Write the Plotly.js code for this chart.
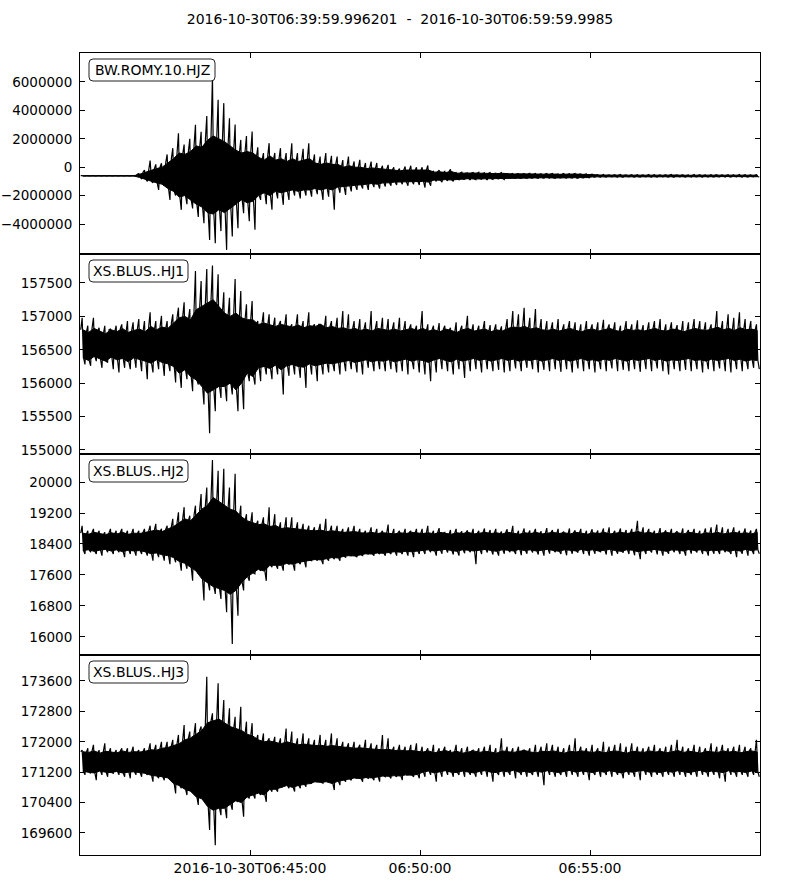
<!DOCTYPE html>
<html>
<head>
<meta charset="utf-8">
<script src="https://cdn.plot.ly/plotly-3.0.1.min.js"></script>
<style>html,body{margin:0;padding:0;background:#fff;}#plot{width:800px;height:891px;}</style>
</head>
<body>
<div id="plot"></div>
<script>
// ---- data: 10-second envelope bins (120 bins, 06:40:00 - 07:00:00) ----
// per bin: extreme max, extreme min, and the upper / lower edge of the dense band
const stations = ["BW.ROMY.10.HJZ", "XS.BLUS..HJ1", "XS.BLUS..HJ2", "XS.BLUS..HJ3"];
const startTime = "2016-10-30T06:39:59.996201";
const endTime = "2016-10-30T06:59:59.9985";
const binSeconds = 10;

const romyMax = [
-600000,-600000,-600000,-600000,-600000,-600000,-600000,-600000,-600000,-600000,
-450000,-200000,470000,200000,280000,900000,1340000,2390000,1600000,2000000,
2980000,2500000,3610000,6390000,4740000,4510000,3450000,3000000,1920000,2200000,
2510000,1400000,990000,1690000,1000000,1340000,1000000,1690000,990000,1300000,
1690000,900000,750000,990000,800000,750000,500000,750000,400000,520000,
300000,400000,300000,100000,160000,0,-100000,50000,100000,0,
0,120000,-260000,-200000,-300000,-150000,-380000,-350000,-400000,-380000,
-350000,-400000,-380000,-420000,-380000,-450000,-440000,-460000,-450000,-430000,
-450000,-460000,-440000,-450000,-470000,-450000,-460000,-450000,-480000,-470000,
-490000,-530000,-520000,-540000,-530000,-520000,-540000,-530000,-530000,-540000,
-520000,-530000,-540000,-530000,-520000,-540000,-530000,-540000,-520000,-530000,
-540000,-530000,-520000,-540000,-530000,-540000,-520000,-530000,-540000,-530000];
const romyMin = [
-620000,-620000,-620000,-620000,-620000,-620000,-620000,-620000,-620000,-620000,
-800000,-1000000,-1100000,-1600000,-1300000,-2300000,-2000000,-3000000,-2600000,-2900000,
-3500000,-3940000,-5120000,-5350000,-4500000,-5820000,-4880000,-4300000,-3240000,-3800000,
-4410000,-2300000,-2600000,-3000000,-2200000,-2650000,-2300000,-2000000,-2200000,-2000000,
-2070000,-1900000,-2300000,-2070000,-3000000,-1800000,-1950000,-1700000,-1600000,-1500000,
-1600000,-1400000,-1500000,-1360000,-1300000,-1250000,-1200000,-1300000,-1200000,-1250000,
-1430000,-1300000,-1000000,-1050000,-950000,-1000000,-890000,-850000,-900000,-880000,
-850000,-900000,-860000,-820000,-870000,-790000,-780000,-790000,-790000,-770000,
-780000,-780000,-770000,-780000,-750000,-770000,-760000,-780000,-750000,-750000,
-700000,-690000,-700000,-680000,-690000,-700000,-680000,-690000,-690000,-680000,
-700000,-690000,-680000,-700000,-690000,-680000,-700000,-690000,-680000,-690000,
-700000,-690000,-680000,-690000,-700000,-680000,-690000,-700000,-680000,-690000];
const romyBandHi = [
-600000,-600000,-600000,-600000,-600000,-600000,-600000,-600000,-600000,-600000,
-500000,-350000,-200000,-100000,0,300000,600000,1000000,900000,1100000,
1500000,1400000,1900000,2200000,2000000,1800000,1500000,1200000,1000000,1100000,
1000000,700000,500000,800000,500000,600000,400000,600000,400000,500000,
600000,300000,200000,300000,200000,200000,0,100000,0,0,
-100000,-50000,-100000,-150000,-150000,-200000,-250000,-200000,-200000,-250000,
-250000,-200000,-350000,-320000,-380000,-300000,-420000,-400000,-430000,-410000,
-420000,-440000,-420000,-450000,-430000,-470000,-480000,-470000,-490000,-480000,
-480000,-490000,-470000,-480000,-500000,-480000,-490000,-480000,-500000,-490000,
-520000,-550000,-560000,-570000,-560000,-550000,-570000,-560000,-560000,-570000,
-560000,-560000,-570000,-560000,-550000,-570000,-560000,-570000,-560000,-560000,
-570000,-560000,-550000,-570000,-560000,-570000,-560000,-560000,-570000,-560000];
const romyBandLo = [
-620000,-620000,-620000,-620000,-620000,-620000,-620000,-620000,-620000,-620000,
-720000,-850000,-1000000,-1100000,-1200000,-1500000,-1700000,-2100000,-2000000,-2300000,
-2600000,-2800000,-3200000,-3300000,-3000000,-3200000,-2900000,-2600000,-2300000,-2500000,
-2400000,-2000000,-1800000,-2000000,-1700000,-1800000,-1700000,-1600000,-1700000,-1600000,
-1600000,-1500000,-1600000,-1500000,-1600000,-1400000,-1400000,-1300000,-1300000,-1250000,
-1200000,-1150000,-1200000,-1100000,-1100000,-1050000,-1000000,-1050000,-1000000,-1000000,
-1000000,-1050000,-900000,-920000,-870000,-900000,-820000,-840000,-810000,-830000,
-820000,-800000,-820000,-790000,-810000,-770000,-760000,-770000,-750000,-760000,
-760000,-750000,-740000,-760000,-740000,-750000,-740000,-760000,-740000,-730000,
-680000,-670000,-670000,-660000,-670000,-680000,-660000,-670000,-670000,-660000,
-670000,-670000,-660000,-670000,-680000,-660000,-670000,-660000,-670000,-670000,
-660000,-670000,-670000,-660000,-670000,-660000,-670000,-670000,-660000,-670000];

const hj1Max = [
156980,156860,156980,156830,156860,156810,156860,156880,156930,156910,
156960,156930,157060,156930,157010,156930,157030,157130,157210,157110,
157680,157530,157710,157760,157630,157360,157280,157560,157380,157180,
157230,156930,157060,157030,156980,156930,157030,156880,157030,156930,
157060,156880,156880,157010,156930,156980,157080,157030,156930,156960,
156910,157080,156930,156980,156960,156910,156980,156930,156880,156860,
157080,156880,156860,156900,156860,156830,156910,156860,157010,156880,
156860,156930,156870,156880,156850,156960,157080,157030,157130,156980,
157110,156960,156930,156910,156960,156880,156930,156910,156880,156930,
156880,156910,156950,156880,156910,156860,156930,156880,156940,156870,
156910,156930,156960,156880,156910,156870,156930,156910,156960,156930,
156910,156880,157080,156930,157030,156980,157060,156960,156930,156880];
const hj1Min = [
156280,156260,156330,156230,156310,156210,156160,156230,156210,156230,
156180,156060,156160,156210,156110,156180,156010,155930,156060,155880,
155980,155680,155250,155580,155780,155730,155830,155580,155610,156030,
155980,156030,156130,156060,156130,155830,156110,156130,156080,155930,
156130,156030,156130,156160,156180,156130,156180,156210,156160,156130,
156230,156180,156210,156180,156210,156160,156180,156130,156210,156160,
156130,156030,156160,156210,156180,156130,156210,156080,156180,156210,
156160,156210,156180,156200,156160,156180,156220,156180,156230,156210,
156160,156200,156180,156210,156170,156210,156160,156220,156180,156210,
156160,156210,156180,156220,156180,156200,156180,156210,156170,156210,
156180,156220,156180,156130,156210,156180,156200,156180,156210,156160,
156210,156180,156220,156180,156160,156210,156180,156210,156230,156210];
const hj1BandHi = [
156800,156760,156820,156780,156740,156800,156770,156820,156760,156790,
156810,156770,156850,156800,156840,156820,156900,156980,157000,156950,
157100,157150,157200,157250,157150,157050,157000,157050,156980,156950,
156950,156880,156900,156870,156850,156880,156860,156840,156870,156830,
156860,156850,156880,156830,156850,156820,156830,156800,156820,156790,
156810,156780,156820,156800,156790,156810,156780,156800,156820,156790,
156820,156780,156800,156770,156810,156790,156760,156800,156820,156780,
156790,156810,156770,156800,156780,156820,156840,156830,156850,156810,
156830,156800,156790,156810,156780,156800,156820,156790,156770,156800,
156810,156780,156800,156820,156790,156770,156810,156790,156800,156780,
156800,156820,156790,156780,156810,156800,156770,156790,156820,156800,
156790,156810,156840,156800,156820,156790,156830,156800,156810,156790];
const hj1BandLo = [
156380,156340,156400,156360,156330,156390,156350,156370,156320,156380,
156360,156330,156300,156350,156310,156290,156250,156150,156200,156100,
156050,155950,155850,155900,155950,155950,156000,155900,156000,156150,
156100,156230,156250,156220,156270,156200,156260,156280,156250,156240,
156290,156260,156280,156300,156290,156310,156320,156340,156310,156330,
156350,156320,156340,156330,156350,156320,156340,156360,156330,156350,
156340,156310,156350,156370,156340,156320,156360,156330,156350,156370,
156340,156360,156330,156350,156370,156340,156360,156330,156350,156340,
156360,156330,156350,156370,156340,156360,156330,156350,156370,156340,
156350,156330,156360,156340,156370,156350,156330,156360,156340,156350,
156370,156340,156360,156330,156350,156340,156360,156370,156340,156350,
156330,156360,156340,156350,156370,156340,156360,156330,156350,156340];

const hj2Max = [
18870,18740,18790,18740,18700,18790,18740,18790,18740,18790,
18740,18790,18870,18920,18790,18870,19050,19220,19350,19130,
19390,19690,19860,20570,20290,20340,19860,20210,19390,19170,
19220,19000,19090,19350,19170,18960,19090,19090,18960,18920,
18870,18830,18920,19050,18870,18870,18790,18830,18870,18790,
18740,18830,18790,18740,18900,18790,18740,18790,18740,18790,
18790,18870,18740,18810,18700,18760,18790,18730,18750,18790,
18740,18800,18760,18790,18720,18780,18870,18740,18800,18750,
18790,18730,18810,18760,18790,18720,18800,18750,18790,18740,
18780,18750,18800,18830,18740,18800,18760,18790,19000,18830,
18790,18740,18810,18750,18790,18730,18800,18760,18790,18740,
18800,18830,18900,18830,18790,18830,18740,18800,18750,18790];
const hj2Min = [
18140,18190,18140,18100,18190,18140,18190,18060,18140,18100,
18140,18100,17970,18060,17970,17880,17930,17710,17760,17450,
17630,16940,17200,17110,16980,16640,15820,16550,17200,17450,
17630,17710,17450,17800,17760,17710,17880,17710,17880,17800,
17970,17970,17880,17970,18010,17970,18060,18100,18060,18100,
18140,18100,18140,18100,18140,18100,18140,18100,18060,18140,
18140,18190,18100,18150,18180,18130,18100,18160,18190,17880,
18140,18180,18130,18100,18150,18190,18140,18110,18150,18180,
18130,18100,18150,18190,18140,18110,18150,18180,18140,18100,
18150,18190,18130,18100,18150,18180,18140,18110,18010,18140,
18180,18130,18100,18150,18190,18140,18100,18150,18180,18140,
18100,18150,18140,18190,18140,18060,18150,18100,18140,18150];
const hj2BandHi = [
18680,18650,18700,18660,18640,18690,18660,18700,18650,18680,
18670,18700,18740,18760,18720,18780,18850,18950,19050,19000,
19150,19300,19400,19600,19500,19400,19300,19250,19100,19000,
18950,18900,18920,18850,18880,18800,18820,18800,18780,18760,
18750,18740,18760,18720,18740,18720,18700,18710,18720,18690,
18680,18700,18670,18690,18680,18660,18690,18670,18700,18680,
18670,18690,18660,18700,18680,18650,18690,18670,18700,18660,
18680,18700,18670,18690,18660,18700,18680,18650,18690,18670,
18700,18660,18680,18700,18670,18690,18660,18700,18680,18650,
18690,18670,18700,18660,18680,18700,18670,18690,18720,18680,
18700,18660,18680,18700,18670,18690,18660,18700,18680,18650,
18690,18670,18700,18660,18680,18700,18670,18690,18660,18700];
const hj2BandLo = [
18230,18250,18210,18240,18260,18220,18250,18200,18240,18220,
18230,18200,18150,18170,18120,18100,18050,17950,17900,17800,
17700,17500,17400,17300,17250,17200,17100,17200,17400,17550,
17650,17750,17700,17850,17850,17850,17900,17880,17920,17950,
17980,18000,17990,18020,18050,18040,18080,18100,18090,18120,
18150,18140,18170,18160,18180,18200,18190,18210,18200,18220,
18230,18250,18220,18240,18260,18230,18210,18250,18240,18220,
18240,18260,18230,18210,18250,18240,18220,18260,18230,18250,
18220,18240,18260,18230,18210,18250,18240,18220,18260,18230,
18250,18220,18240,18260,18230,18210,18250,18240,18200,18230,
18240,18260,18230,18210,18250,18240,18220,18260,18230,18250,
18220,18240,18230,18250,18210,18240,18220,18260,18230,18250];

const hj3Max = [
171780,171830,171920,171780,171960,171830,171780,171830,171830,171870,
171780,171830,171960,171920,172000,172000,172050,172180,172440,172270,
172490,172400,173710,172750,173540,173100,172880,172660,172920,172530,
172490,172180,172220,172090,172130,172090,172350,172270,172090,172220,
172090,172050,172180,172050,172220,172090,172000,171960,172000,171920,
172050,171960,171920,172180,172090,171870,171920,171870,171920,171960,
171870,171830,171920,171830,171870,171780,171920,171830,171870,171780,
171830,171870,171920,171830,172090,171870,171830,171870,171780,171830,
171920,171870,171960,171920,171870,171830,171920,172090,171870,171830,
171920,171830,172000,171870,171920,171960,171870,171960,171870,171830,
171870,171920,171830,171870,171920,172050,171870,171830,171920,171870,
171830,171960,171870,171920,171830,171870,171920,171870,171830,172050];
const hj3Min = [
171130,171170,170990,171130,171080,171170,171130,171080,171040,171130,
171080,171130,170950,171040,170990,171040,170640,170780,170600,170780,
170340,170510,169680,169280,170070,169990,170210,170420,170030,170510,
170510,170600,170420,170690,170690,170860,170780,170690,170780,170820,
170910,170950,170910,170950,170730,170860,170950,170990,171040,170950,
171040,170990,170950,171080,171040,171080,170990,171130,171080,171040,
171080,171130,170950,171080,171130,171080,171130,171080,171130,171080,
171130,171080,170950,171130,171080,171130,171040,171130,171080,171130,
171080,170860,171130,171080,171130,171080,171130,171080,171130,170990,
171130,171080,171130,171080,171130,171040,171130,171080,170990,171130,
171080,171130,171080,171130,171080,171130,171080,171130,171080,171130,
171080,171130,171040,170950,171130,171080,171130,171080,171130,171080];
const hj3BandHi = [
171740,171720,171760,171700,171750,171730,171710,171760,171720,171740,
171730,171750,171790,171780,171830,171850,171900,171950,172050,172100,
172200,172300,172500,172550,172600,172500,172400,172350,172300,172200,
172150,172050,172000,172020,171980,171950,172000,171950,171920,171940,
171920,171900,171910,171880,171900,171870,171860,171850,171830,171840,
171820,171810,171800,171790,171800,171770,171780,171760,171770,171750,
171730,171760,171710,171740,171770,171720,171750,171700,171740,171760,
171720,171750,171730,171700,171760,171740,171720,171750,171770,171730,
171710,171750,171740,171760,171720,171700,171750,171730,171760,171740,
171720,171750,171710,171740,171760,171730,171700,171750,171740,171720,
171760,171730,171750,171710,171740,171770,171720,171750,171730,171700,
171750,171740,171720,171760,171730,171750,171710,171740,171760,171730];
const hj3BandLo = [
171220,171200,171180,171230,171200,171190,171220,171180,171200,171210,
171190,171170,171120,171100,171080,171050,170900,170850,170750,170700,
170550,170500,170300,170200,170250,170250,170350,170450,170400,170550,
170600,170650,170600,170750,170750,170800,170850,170800,170850,170880,
170900,170950,170930,170950,170900,170960,171000,171020,171050,171030,
171060,171050,171080,171100,171090,171110,171100,171130,171120,171140,
171200,171230,171180,171210,171240,171200,171190,171230,171210,171180,
171220,171240,171200,171190,171230,171210,171250,171200,171220,171190,
171230,171200,171240,171210,171190,171220,171250,171200,171230,171210,
171190,171230,171200,171240,171210,171180,171220,171200,171230,171240,
171200,171210,171190,171230,171200,171240,171210,171190,171220,171250,
171200,171230,171210,171190,171240,171200,171220,171190,171230,171210];

const xTickVals = ["2016-10-30 06:45:00", "2016-10-30 06:50:00", "2016-10-30 06:55:00"];
const xTickText = ["2016-10-30T06:45:00", "06:50:00", "06:55:00"];

const yTickVals = [
  [-4000000,-2000000,0,2000000,4000000,6000000],
  [155000,155500,156000,156500,157000,157500],
  [16000,16800,17600,18400,19200,20000],
  [169600,170400,171200,172000,172800,173600]
];
const yTickText = [
  ["\u22124000000","\u22122000000","0","2000000","4000000","6000000"],
  ["155000","155500","156000","156500","157000","157500"],
  ["16000","16800","17600","18400","19200","20000"],
  ["169600","170400","171200","172000","172800","173600"]
];
const yRanges = [[-6110000, 8040000],[154940, 157934],[15535, 20723],[169021, 174284]];

// ---- build ----
const base = Date.UTC(2016, 9, 30, 6, 40, 0);
const series = [
  [romyMax, romyMin, romyBandHi, romyBandLo],
  [hj1Max, hj1Min, hj1BandHi, hj1BandLo],
  [hj2Max, hj2Min, hj2BandHi, hj2BandLo],
  [hj3Max, hj3Min, hj3BandHi, hj3BandLo]
];

const traces = [];
series.forEach(([mx, mn, bh, bl], p) => {
  const xa = p === 0 ? 'x' : 'x' + (p + 1);
  const ya = p === 0 ? 'y' : 'y' + (p + 1);
  const binMs = binSeconds * 1000;
  // dense band (filled between its upper and lower edge)
  const fx = [], fy = [];
  bh.forEach((v, i) => { fx.push(base + (i + 0.5) * binMs); fy.push(v); });
  for (let i = bl.length - 1; i >= 0; i--) { fx.push(base + (i + 0.5) * binMs); fy.push(bl[i]); }
  traces.push({x: fx, y: fy, xaxis: xa, yaxis: ya, type: 'scatter', mode: 'lines',
    fill: 'toself', fillcolor: '#000', line: {width: 1, color: '#000'}, hoverinfo: 'skip'});
  // waveform strokes: thin spikes out to each bin's extremes
  const x = [], y = [];
  const step = binMs / 4;
  mx.forEach((v, i) => {
    const t = base + i * binMs;
    [bh[i], v, bl[i], mn[i]].forEach((val, k) => { x.push(t + (k + 0.5) * step); y.push(val); });
  });
  traces.push({x, y, xaxis: xa, yaxis: ya, type: 'scatter', mode: 'lines',
    line: {color: '#000', width: 1.2, simplify: false}, hoverinfo: 'skip'});
});

const font = {family: 'DejaVu Sans', size: 14, color: '#000'};
const yfont = {family: 'DejaVu Sans', size: 13.5, color: '#000'};
const domains = [[0.7494, 1], [0.5, 0.7494], [0.2494, 0.5], [0, 0.2494]];
const layout = {
  width: 800, height: 891,
  margin: {l: 80, r: 40, t: 53, b: 36, pad: 0},
  paper_bgcolor: '#fff', plot_bgcolor: '#fff',
  showlegend: false, font: font,
  title: {text: startTime + '\u00a0\u00a0-\u00a0\u00a0' + endTime, font: font,
          x: 0.5, xref: 'container', xanchor: 'center', y: 1 - 19 / 891, yref: 'container', yanchor: 'middle'},
  annotations: [], shapes: []
};
const boxTops = [59, 260, 460, 661];
const boxW = [126, 99, 99, 99];
for (let p = 0; p < 4; p++) {
  const sfx = p === 0 ? '' : String(p + 1);
  layout['xaxis' + sfx] = {
    type: 'date', range: [startTime.replace('T', ' '), endTime.replace('T', ' ')],
    anchor: 'y' + sfx, matches: p === 0 ? undefined : 'x',
    showgrid: false, zeroline: false, showline: true, linecolor: '#000', linewidth: 1,
    mirror: 'ticks', ticks: 'inside', ticklen: 5, tickcolor: '#000', tickwidth: 1,
    tickmode: 'array', tickvals: xTickVals, ticktext: xTickText,
    showticklabels: p === 3, tickfont: font, fixedrange: true
  };
  layout['yaxis' + sfx] = {
    domain: domains[p], anchor: 'x' + sfx, range: yRanges[p],
    showgrid: false, zeroline: false, showline: true, linecolor: '#000', linewidth: 1,
    mirror: 'ticks', ticks: 'inside', ticklen: 5, tickcolor: '#000', tickwidth: 1,
    tickmode: 'array', tickvals: yTickVals[p], ticktext: yTickText[p],
    tickfont: yfont, ticklabelstandoff: 4, fixedrange: true
  };
  const top = boxTops[p], w = boxW[p], h = 22, r = 4;
  layout.shapes.push({
    type: 'path', xref: 'paper', yref: 'paper', xsizemode: 'pixel', ysizemode: 'pixel',
    xanchor: (89 - 80) / 680, yanchor: (855 - top) / 802,
    path: `M ${r},0 L ${w - r},0 Q ${w},0 ${w},${-r} L ${w},${-(h - r)} Q ${w},${-h} ${w - r},${-h} L ${r},${-h} Q 0,${-h} 0,${-(h - r)} L 0,${-r} Q 0,0 ${r},0 Z`,
    fillcolor: '#fff', line: {color: '#222', width: 1}, layer: 'above'
  });
  layout.annotations.push({
    text: stations[p], xref: 'paper', yref: 'paper',
    x: (89 + w / 2 - 80) / 680, y: (855 - (top + h / 2)) / 802,
    xanchor: 'center', yanchor: 'middle', showarrow: false, font: font
  });
}
Plotly.newPlot('plot', traces, layout, {staticPlot: true, displayModeBar: false});
</script>
</body>
</html>
